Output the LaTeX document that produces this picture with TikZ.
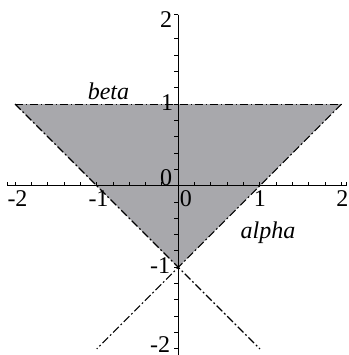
\documentclass[tikz,border=0pt]{standalone}
\usepackage{fontspec}
\setmainfont{Liberation Serif}
\definecolor{regiongray}{RGB}{168,168,172}
\begin{document}
\begin{tikzpicture}[x=0.5pt,y=-0.5pt,
  axis/.style={line width=0.5pt,black},
  tickmark/.style={line width=0.5pt,black},
  curve/.style={line width=0.55pt,black,dash pattern=on 4pt off 1.3pt on 0.9pt off 1.3pt},
  lbl/.style={font=\fontsize{12}{14}\selectfont,inner sep=0pt},
  ilbl/.style={font=\fontsize{12}{14}\selectfont\itshape,inner sep=0pt}]
\useasboundingbox (0,0) rectangle (349,355);
% data points (pixel coordinates)
\coordinate (TL) at (15.1,104.1);
\coordinate (TR) at (341.5,104.1);
\coordinate (V) at (178.3,267.3);
\coordinate (BL) at (96.7,348.9);
\coordinate (BR) at (259.9,348.9);
\coordinate (XL) at (7.3,185.7);
\coordinate (XR) at (347,185.7);
\coordinate (YT) at (178.3,14.7);
\coordinate (YB) at (178.3,356);
% shaded region
\fill[regiongray] (TL) -- (TR) -- (V) -- cycle;
% axes
\draw[axis] (XL) -- (XR);
\draw[axis] (YT) -- (YB);
% x ticks
\foreach \k in {-10,...,10}{
  \draw[tickmark] ({178.3+16.32*\k},185.7) -- ++(0,-3.5);
}
\draw[tickmark] (XL) -- ++(0,-3.5);
\draw[tickmark] (XR) -- ++(0,-3.5);
% y ticks
\foreach \k in {-10,...,9}{
  \draw[tickmark] (178.3,{185.7-16.32*\k}) -- ++(-4.3,0);
}
\draw[tickmark] (YT) -- ++(-4.3,0);
% curves
\draw[curve] (TL) -- (TR);
\draw[curve] (TL) -- (BR);
\draw[curve] (TR) -- (BL);
% x labels
\node[lbl,anchor=base] (xm2) at (17.5,206) {-2};
\node[lbl,anchor=base] (xm1) at (98.5,206) {-1};
\node[lbl,anchor=base] (x0) at (186,206) {0};
\node[lbl,anchor=base] (x1) at (260,206) {1};
\node[lbl,anchor=base] (x2) at (342.5,206) {2};
% y labels
\node[lbl,anchor=base east] (y2) at (172.5,27) {2};
\node[lbl,anchor=base east] (y1) at (173.5,110) {1};
\node[lbl,anchor=base east] (y0) at (172.5,185) {0};
\node[lbl,anchor=base east] (ym1) at (170.5,273) {-1};
\node[lbl,anchor=base east] (ym2) at (170.5,352) {-2};
% curve labels
\node[ilbl,anchor=base] (beta) at (108.5,99.5) {beta};
\node[ilbl,anchor=base] (alpha) at (268,238) {alpha};
\end{tikzpicture}
\end{document}
